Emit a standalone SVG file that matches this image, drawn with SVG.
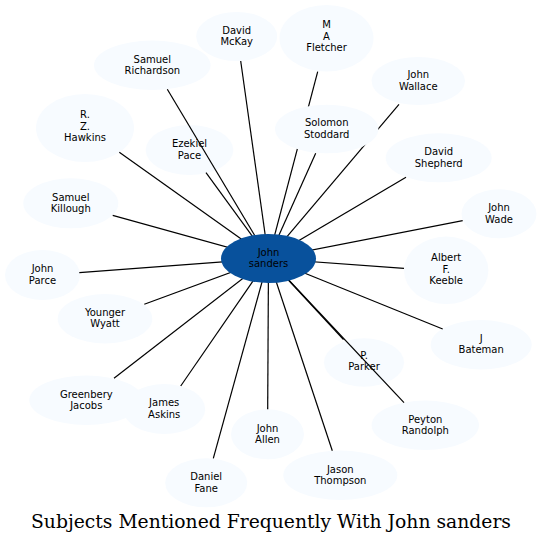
<svg xmlns="http://www.w3.org/2000/svg" width="542" height="544" viewBox="0 0 542 544">
<style>
.n ellipse{fill:#f7fbff;stroke:none}
.n text{font-family:"DejaVu Sans",sans-serif;font-size:10px;text-anchor:middle;fill:#000}
#center ellipse{fill:#08519c}
.e line{stroke:#000;stroke-width:1.2}
.title{font-family:"DejaVu Serif",serif;font-size:18px;text-anchor:middle;fill:#000}
</style>
<rect width="542" height="544" fill="#fff"/>
<g id="nodes">
<g id="mckay" class="n"><ellipse cx="236.7" cy="36.5" rx="40.5" ry="24.5"/><text x="236.7" y="33.7">David</text><text x="236.7" y="45.2">McKay</text></g>
<g id="fletcher" class="n"><ellipse cx="326.5" cy="38.3" rx="47" ry="33.3"/><text x="326.5" y="28.3">M</text><text x="326.5" y="39.8">A</text><text x="326.5" y="51.3">Fletcher</text></g>
<g id="wallace" class="n"><ellipse cx="418.3" cy="81" rx="46.7" ry="24"/><text x="418.3" y="78.2">John</text><text x="418.3" y="89.7">Wallace</text></g>
<g id="richardson" class="n"><ellipse cx="152.3" cy="65.3" rx="58.3" ry="24.7"/><text x="152.3" y="62.5">Samuel</text><text x="152.3" y="74">Richardson</text></g>
<g id="shepherd" class="n"><ellipse cx="438.7" cy="157.8" rx="53" ry="24.5"/><text x="438.7" y="155">David</text><text x="438.7" y="166.5">Shepherd</text></g>
<g id="hawkins" class="n"><ellipse cx="85" cy="128" rx="49" ry="34"/><text x="85" y="118">R.</text><text x="85" y="129.5">Z.</text><text x="85" y="141">Hawkins</text></g>
<g id="pace" class="n"><ellipse cx="189.5" cy="150" rx="43.8" ry="25"/><text x="189.5" y="147.2">Ezekiel</text><text x="189.5" y="158.7">Pace</text></g>
<g id="killough" class="n"><ellipse cx="70.8" cy="203.3" rx="47.5" ry="25"/><text x="70.8" y="200.5">Samuel</text><text x="70.8" y="212">Killough</text></g>
<g id="wade" class="n"><ellipse cx="499" cy="213.8" rx="37.5" ry="24.5"/><text x="499" y="211">John</text><text x="499" y="222.5">Wade</text></g>
<g id="parce" class="n"><ellipse cx="42.5" cy="275" rx="37.5" ry="25"/><text x="42.5" y="272.2">John</text><text x="42.5" y="283.7">Parce</text></g>
<g id="keeble" class="n"><ellipse cx="446.2" cy="270.3" rx="42.2" ry="33.7"/><text x="446.2" y="261">Albert</text><text x="446.2" y="272.5">F.</text><text x="446.2" y="284">Keeble</text></g>
<g id="wyatt" class="n"><ellipse cx="105" cy="318.7" rx="47.3" ry="24.7"/><text x="105" y="315.9">Younger</text><text x="105" y="327.4">Wyatt</text></g>
<g id="bateman" class="n"><ellipse cx="481.2" cy="344.7" rx="50.5" ry="24.7"/><text x="481.2" y="341.9">J</text><text x="481.2" y="353.4">Bateman</text></g>
<g id="parker" class="n"><ellipse cx="364" cy="362.5" rx="40" ry="24.2"/><text x="364" y="358.5">P.</text><text x="364" y="370">Parker</text></g>
<g id="jacobs" class="n"><ellipse cx="86.3" cy="400.3" rx="57" ry="24.7"/><text x="86.3" y="397.5">Greenbery</text><text x="86.3" y="409">Jacobs</text></g>
<g id="askins" class="n"><ellipse cx="164.2" cy="409" rx="41" ry="25"/><text x="164.2" y="406.2">James</text><text x="164.2" y="417.7">Askins</text></g>
<g id="randolph" class="n"><ellipse cx="425.3" cy="425.3" rx="53.7" ry="24.7"/><text x="425.3" y="422.5">Peyton</text><text x="425.3" y="434">Randolph</text></g>
<g id="allen" class="n"><ellipse cx="267.5" cy="434.3" rx="36.5" ry="25"/><text x="267.5" y="431.5">John</text><text x="267.5" y="443">Allen</text></g>
<g id="thompson" class="n"><ellipse cx="340.3" cy="475.3" rx="57" ry="24.7"/><text x="340.3" y="472.5">Jason</text><text x="340.3" y="484">Thompson</text></g>
<g id="fane" class="n"><ellipse cx="206.2" cy="482.8" rx="41" ry="24.5"/><text x="206.2" y="480">Daniel</text><text x="206.2" y="491.5">Fane</text></g>
</g>
<g id="connectors" class="e">
<line x1="268.5" y1="258.5" x2="240.7" y2="61"/>
<line x1="268.5" y1="258.5" x2="167.3" y2="89.3"/>
<line x1="268.5" y1="258.5" x2="206" y2="172.7"/>
<line x1="268.5" y1="258.5" x2="119.3" y2="152.3"/>
<line x1="268.5" y1="258.5" x2="317.7" y2="71.7"/>
<line x1="268.5" y1="258.5" x2="315.7" y2="153.3"/>
<line x1="268.5" y1="258.5" x2="399" y2="104.3"/>
<line x1="268.5" y1="258.5" x2="406" y2="177.3"/>
<line x1="268.5" y1="258.5" x2="462.7" y2="220.7"/>
<line x1="268.5" y1="258.5" x2="112.7" y2="215.3"/>
<line x1="268.5" y1="258.5" x2="79.3" y2="272.7"/>
<line x1="268.5" y1="258.5" x2="144.3" y2="304.3"/>
<line x1="268.5" y1="258.5" x2="404" y2="268.3"/>
<line x1="268.5" y1="258.5" x2="442.7" y2="329"/>
<line x1="268.5" y1="258.5" x2="114" y2="378.3"/>
<line x1="268.5" y1="258.5" x2="180.7" y2="386"/>
<line x1="268.5" y1="258.5" x2="213.3" y2="458.3"/>
<line x1="268.5" y1="258.5" x2="267.7" y2="409.3"/>
<line x1="268.5" y1="258.5" x2="332.3" y2="450.7"/>
<line x1="268.5" y1="258.5" x2="404" y2="402.7"/>
<line x1="268.5" y1="258.5" x2="343.5" y2="339.5"/>
</g>
<g id="stoddard" class="n"><ellipse cx="326.7" cy="129" rx="51.7" ry="24.3"/><text x="326.7" y="126.2">Solomon</text><text x="326.7" y="137.7">Stoddard</text></g>
<g id="center" class="n"><ellipse cx="268.5" cy="258.5" rx="47.5" ry="24.5"/><text x="268.5" y="255.7">John</text><text x="268.5" y="267.2">sanders</text></g>
<text class="title" x="271" y="527.5" textLength="480" lengthAdjust="spacingAndGlyphs">Subjects Mentioned Frequently With John sanders</text>
</svg>
